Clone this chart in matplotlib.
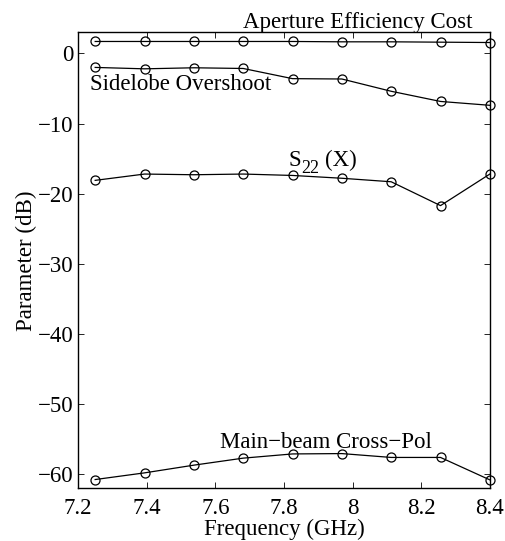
import matplotlib
matplotlib.use('Agg')
import matplotlib.pyplot as plt
import numpy as np

plt.rcParams.update({'font.family': ['Liberation Serif', 'DejaVu Serif'],
                     'font.size': 16.5, 'axes.unicode_minus': True})

freq = np.array([7.25, 7.39375, 7.5375, 7.68125, 7.825, 7.96875, 8.1125, 8.25625, 8.4])
aperture_cost = [1.7, 1.7, 1.7, 1.7, 1.7, 1.65, 1.65, 1.6, 1.55]
sidelobe_over = [-2.0, -2.2, -2.05, -2.15, -3.6, -3.65, -5.4, -6.85, -7.4]
s22 = [-18.1, -17.2, -17.3, -17.2, -17.4, -17.8, -18.3, -21.7, -17.2]
xpol = [-60.75, -59.8, -58.7, -57.7, -57.1, -57.05, -57.6, -57.6, -60.8]

fig = plt.figure(figsize=(5.05, 5.41), dpi=100)
ax = fig.add_axes([0.1545, 0.0974, 0.8155, 0.8428])

for series in (aperture_cost, sidelobe_over, s22, xpol):
    ax.plot(freq, series, color='black', lw=0.9, marker='o', ms=6.5,
            mfc='none', mec='black', mew=0.9, clip_on=False, zorder=3)

ax.set_xlim(7.2, 8.4)
ax.set_ylim(-62, 3)
ax.set_xticks(np.arange(7.2, 8.41, 0.2))
ax.set_xticklabels(['7.2', '7.4', '7.6', '7.8', '8', '8.2', '8.4'])
ax.set_yticks([0, -10, -20, -30, -40, -50, -60])
ax.tick_params(axis='x', direction='in', top=True, length=4, width=0.6,
               labelsize=16.5, pad=7)
ax.tick_params(axis='y', direction='in', right=True, length=4, width=0.6,
               labelsize=16.5, pad=3.5)
for s in ax.spines.values():
    s.set_linewidth(1.0)

ax.set_xlabel('Frequency (GHz)', fontsize=16.5, labelpad=0)
ax.set_ylabel('Parameter (dB)', fontsize=16.5, labelpad=0)

ax.text(8.348, 3.62, 'Aperture Efficiency Cost', ha='right', va='baseline')
ax.text(7.235, -5.27, 'Sidelobe Overshoot', ha='left', va='baseline')
ax.text(7.614, -56.2, 'Main\u2212beam Cross\u2212Pol', ha='left', va='baseline')

# S22 (X) label with a hand-placed subscript
ax.annotate('S', (7.812, -16.1), va='baseline', ha='left')
ax.annotate('22', (7.812, -16.1), xytext=(9.2, -4.5), textcoords='offset points',
            va='baseline', ha='left', fontsize=13)
ax.annotate('(X)', (7.812, -16.1), xytext=(26.6, 0), textcoords='offset points',
            va='baseline', ha='left')

fig.savefig('out.png', dpi=100)
